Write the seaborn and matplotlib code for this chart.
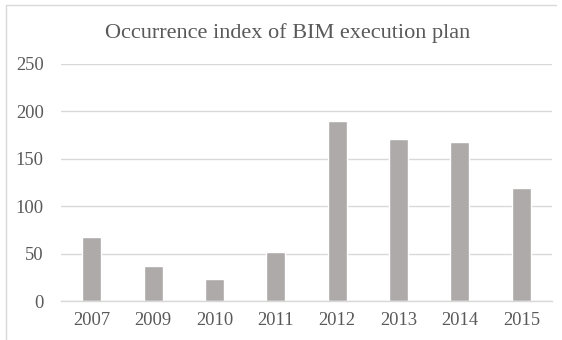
import pandas as pd
import matplotlib.pyplot as plt
import seaborn as sns
from matplotlib.lines import Line2D

# data
years = ['2007', '2009', '2010', '2011', '2012', '2013', '2014', '2015']
occurrence = [67, 37, 23, 52, 190, 171, 168, 119]
yticks = [0, 50, 100, 150, 200, 250]

df = pd.DataFrame({'Year': years, 'Occurrence': occurrence})

sns.set_style('white')
plt.rcParams['font.family'] = ['Liberation Serif', 'DejaVu Serif']

text_color = '#595959'
grid_color = '#D9D9D9'

fig = plt.figure(figsize=(5.62, 3.4), dpi=100)
ax = fig.add_axes([61 / 562, 1 - 301 / 340, 491 / 562, 237 / 340])

sns.barplot(data=df, x='Year', y='Occurrence', order=years, color='#AEAAAA',
            saturation=1, width=0.31, ax=ax)

ax.set_ylim(0, 250)
ax.set_xlim(-0.5, len(years) - 0.5)
ax.set_yticks(yticks)
ax.set_yticklabels([str(v) for v in yticks])
ax.yaxis.grid(True, color=grid_color, linewidth=1)
ax.set_axisbelow(True)
ax.set_xlabel('')
ax.set_ylabel('')
for side in ['top', 'right', 'left']:
    ax.spines[side].set_visible(False)
ax.spines['bottom'].set_color(grid_color)
ax.spines['bottom'].set_linewidth(1)
ax.tick_params(axis='both', length=0, labelsize=13.3, colors=text_color)
ax.tick_params(axis='y', pad=12.5)
ax.tick_params(axis='x', pad=8)

fig.text(287.5 / 562, 1 - 33 / 340, 'Occurrence index of BIM execution plan',
         ha='center', va='center', fontsize=16, color=text_color)

# chart area border (left and top edges visible in the reference)
fig.add_artist(Line2D([6 / 562, 6 / 562], [0, 1 - 5 / 340], transform=fig.transFigure,
                      color=grid_color, linewidth=1))
fig.add_artist(Line2D([6 / 562, 556 / 562], [1 - 5 / 340, 1 - 5 / 340], transform=fig.transFigure,
                      color=grid_color, linewidth=1))

plt.savefig('out.png', dpi=100)
